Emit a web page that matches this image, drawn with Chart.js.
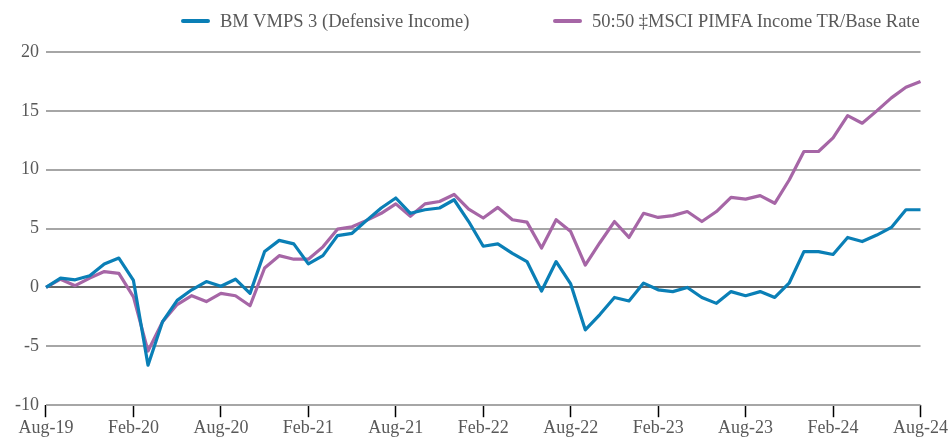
<!DOCTYPE html>
<html>
<head>
<meta charset="utf-8">
<script src="https://cdn.jsdelivr.net/npm/chart.js@4.4.1/dist/chart.umd.min.js"></script>
<style>
  html, body { margin: 0; padding: 0; background: #fff; }
  #wrap { width: 949px; height: 439px; position: relative; }
  #canvasBox { position: absolute; left: 0; top: 0; width: 949px; height: 439px; }
  .legend-item { position: absolute; top: 9px; height: 24px; display: flex; align-items: center;
    font-family: "Liberation Serif", "DejaVu Serif", serif; font-size: 18.5px; color: #595959; white-space: nowrap; }
  .swatch { display: inline-block; width: 29px; height: 4px; border-radius: 2px; margin-right: 10px; }
</style>
</head>
<body>
<div id="wrap">
  <div id="canvasBox"><canvas id="chart"></canvas></div>
  <div class="legend-item" id="leg0" style="left:181px"><span class="swatch"></span><span class="txt"></span></div>
  <div class="legend-item" id="leg1" style="left:553px"><span class="swatch"></span><span class="txt"></span></div>
</div>
<script>
// Months, Aug-19 to Aug-24
const months = [
  'Aug-19','Sep-19','Oct-19','Nov-19','Dec-19','Jan-20','Feb-20','Mar-20','Apr-20','May-20','Jun-20','Jul-20',
  'Aug-20','Sep-20','Oct-20','Nov-20','Dec-20','Jan-21','Feb-21','Mar-21','Apr-21','May-21','Jun-21','Jul-21',
  'Aug-21','Sep-21','Oct-21','Nov-21','Dec-21','Jan-22','Feb-22','Mar-22','Apr-22','May-22','Jun-22','Jul-22',
  'Aug-22','Sep-22','Oct-22','Nov-22','Dec-22','Jan-23','Feb-23','Mar-23','Apr-23','May-23','Jun-23','Jul-23',
  'Aug-23','Sep-23','Oct-23','Nov-23','Dec-23','Jan-24','Feb-24','Mar-24','Apr-24','May-24','Jun-24','Jul-24',
  'Aug-24'
];

const seriesNames = ['BM VMPS 3 (Defensive Income)', '50:50 \u2021MSCI PIMFA Income TR/Base Rate'];
const seriesColors = ['#0a7fb6', '#a666a6'];

const defensiveIncome = [
  0, 0.8, 0.65, 1.0, 2.0, 2.5, 0.6, -6.6, -2.9, -1.1, -0.2, 0.5,
  0.1, 0.7, -0.5, 3.05, 4.0, 3.7, 2.0, 2.7, 4.4, 4.6, 5.7, 6.75,
  7.6, 6.3, 6.6, 6.75, 7.45, 5.6, 3.5, 3.7, 2.9, 2.2, -0.3, 2.2,
  0.3, -3.6, -2.3, -0.85, -1.15, 0.37, -0.2, -0.35, 0.0, -0.85, -1.35, -0.35,
  -0.7, -0.35, -0.85, 0.4, 3.05, 3.05, 2.8, 4.25, 3.9, 4.45, 5.1, 6.6,
  6.6
];

const benchmark = [
  0, 0.7, 0.15, 0.8, 1.35, 1.2, -0.8, -5.4, -2.9, -1.45, -0.7, -1.2,
  -0.5, -0.7, -1.55, 1.65, 2.7, 2.4, 2.4, 3.45, 4.95, 5.15, 5.7, 6.3,
  7.1, 6.05, 7.1, 7.3, 7.9, 6.65, 5.9, 6.8, 5.75, 5.55, 3.35, 5.75,
  4.75, 1.9, 3.8, 5.6, 4.25, 6.3, 5.95, 6.1, 6.45, 5.6, 6.45, 7.65,
  7.5, 7.8, 7.15, 9.15, 11.55, 11.55, 12.7, 14.6, 13.95, 15.0, 16.1, 17.0,
  17.5
];

const yMin = -10, yMax = 20, yStep = 5;

const fontFamily = '"Liberation Serif", "DejaVu Serif", serif';
const textColor = '#595959';

// html legend
seriesNames.forEach((name, i) => {
  const el = document.getElementById('leg' + i);
  el.querySelector('.swatch').style.background = seriesColors[i];
  el.querySelector('.txt').textContent = name;
});

const ctx = document.getElementById('chart').getContext('2d');
new Chart(ctx, {
  type: 'line',
  data: {
    labels: months,
    datasets: [
      { label: seriesNames[0], data: defensiveIncome, borderColor: seriesColors[0], backgroundColor: seriesColors[0] },
      { label: seriesNames[1], data: benchmark, borderColor: seriesColors[1], backgroundColor: seriesColors[1] }
    ]
  },
  options: {
    responsive: true,
    maintainAspectRatio: false,
    animation: false,
    layout: { padding: { left: 8, right: 25, top: 52, bottom: 0 } },
    elements: {
      point: { radius: 0 },
      line: { borderWidth: 3.2, tension: 0, borderJoinStyle: 'round' }
    },
    plugins: {
      tooltip: { enabled: false },
      legend: { display: false }
    },
    scales: {
      x: {
        offset: false,
        border: { display: false },
        grid: {
          drawOnChartArea: false,
          drawTicks: true,
          tickLength: 12,
          tickWidth: 1.5,
          tickColor: '#000'
        },
        ticks: {
          autoSkip: false,
          maxRotation: 0,
          padding: 1,
          color: textColor,
          font: { family: fontFamily, size: 18, lineHeight: 1.1 },
          callback: function (v, i) { return i % 6 === 0 ? months[i] : null; }
        }
      },
      y: {
        min: yMin,
        max: yMax,
        border: { display: false },
        grid: {
          drawTicks: false,
          lineWidth: 2,
          color: c => c.tick && c.tick.value === 0 ? '#666666' : '#a6a6a6'
        },
        ticks: {
          stepSize: yStep,
          padding: 7,
          color: textColor,
          font: { family: fontFamily, size: 18 }
        }
      }
    }
  }
});
</script>
</body>
</html>
